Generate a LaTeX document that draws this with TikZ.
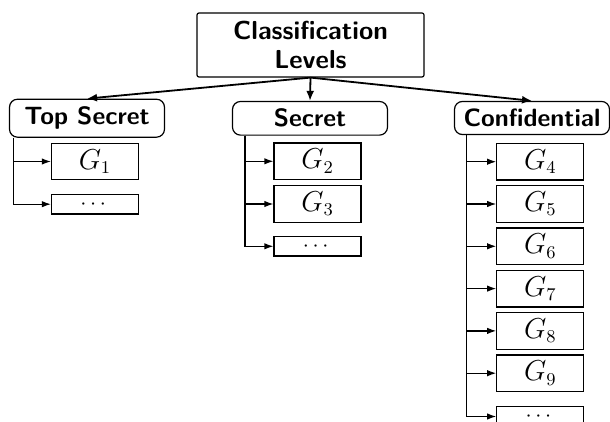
\documentclass[tikz,border=0pt]{standalone}
\usepackage{amsmath}
\usetikzlibrary{arrows.meta}

\tikzset{
  rootbox/.style={draw, rounded corners=1pt, minimum width=113.5pt, minimum height=32pt,
    align=center, font=\fontsize{13}{14.5}\selectfont\sffamily\bfseries, line width=0.6pt},
  levelbox/.style={draw, rounded corners=4pt, minimum width=77.5pt, inner sep=3.8pt,
    font=\fontsize{12.5}{15}\selectfont\sffamily\bfseries, line width=0.6pt},
  gbox/.style={draw, minimum width=43.5pt, minimum height=18.3pt, inner sep=0pt,
    font=\fontsize{13.5}{15}\selectfont, line width=0.6pt},
  dotbox/.style={draw, minimum width=43.5pt, minimum height=9.75pt, inner sep=0pt,
    font=\fontsize{11}{12}\selectfont, line width=0.6pt},
  toplink/.style={-{Latex[length=5pt,width=4pt]}, line width=0.9pt},
  leaflink/.style={-{Latex[length=4.5pt,width=3.2pt]}, line width=0.6pt},
}

\begin{document}
\begin{tikzpicture}[x=0.5pt, y=-0.5pt]
\useasboundingbox (0,0) rectangle (610,422);

% root
\node[rootbox] (levels) at (310.5,45) {Classification\\Levels};

% levels
\node[levelbox] (topsecret) at (87,118.2) {Top Secret};
\node[levelbox] (secret) at (310,118.3) {Secret};
\node[levelbox] (confidential) at (532,118) {Confidential};

\foreach \lvl in {topsecret,secret,confidential}
  \draw[toplink] (levels.south) -- (\lvl.north);

% Top Secret groups
\coordinate (ts-trunk) at (13.3,0);
\node[gbox] (g1) at (95,161.5) {$G_1$};
\node[dotbox] (ts-dots) at (95,204.2) {$\cdots$};
\foreach \leaf in {g1,ts-dots}
  \draw[leaflink] (ts-trunk |- topsecret.south) |- (\leaf.west);

% Secret groups
\coordinate (sec-trunk) at (245,0);
\node[gbox] (g2) at (317.5,161.3) {$G_2$};
\node[gbox] (g3) at (317.5,204) {$G_3$};
\node[dotbox] (sec-dots) at (317.5,246.3) {$\cdots$};
\foreach \leaf in {g2,g3,sec-dots}
  \draw[leaflink] (sec-trunk |- secret.south) |- (\leaf.west);

% Confidential groups
\coordinate (conf-trunk) at (466.7,0);
\foreach \i in {4,...,9} {
  \node[gbox] (g\i) at (540.3,{161.7+42.3*(\i-4)}) {$G_{\i}$};
  \draw[leaflink] (conf-trunk |- confidential.south) |- (g\i.west);
}
\node[dotbox] (conf-dots) at (540.3,416.5) {$\cdots$};
\draw[leaflink] (conf-trunk |- confidential.south) |- (conf-dots.west);

\end{tikzpicture}
\end{document}
